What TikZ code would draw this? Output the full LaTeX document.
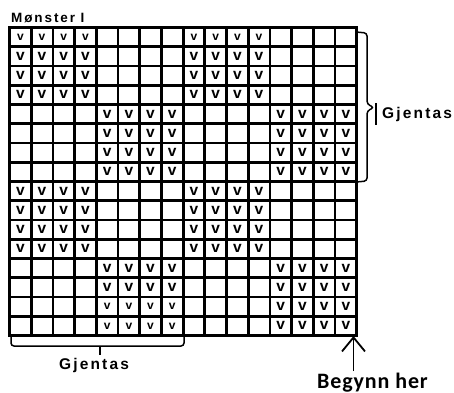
\documentclass[tikz,border=0pt]{standalone}
\usepackage{fontspec}
\setmainfont{Liberation Sans}
\newfontfamily\boldsans{Liberation Sans Bold}
\newfontfamily\boldspaced{Liberation Sans Bold}[LetterSpace=14]
\newfontfamily\calibrifont{Carlito Bold}[LetterSpace=4]
\usetikzlibrary{positioning, arrows.meta, calc}

\begin{document}
\begin{tikzpicture}[
    x=1pt, y=-1pt,
    gridline/.style={line width=2.8pt, line cap=rect},
    vmark/.style={font=\boldsans\fontsize{15.5}{15.5}\selectfont, inner sep=0pt},
    vsmall/.style={font=\boldsans\fontsize{12}{12}\selectfont, inner sep=0pt},
    bracket/.style={line width=1.5pt, rounded corners=3pt},
    gjtext/.style={font=\boldspaced\fontsize{15.5}{15.5}\selectfont, inner sep=0pt},
    titletext/.style={font=\boldspaced\fontsize{13.5}{13.5}\selectfont, inner sep=0pt},
    starttext/.style={font=\calibrifont\fontsize{22}{22}\selectfont, inner sep=0pt},
    startarrow/.style={line width=1.8pt, -{Straight Barb[length=14pt, width=23pt, line width=1.8pt]}}
]
\useasboundingbox (0,0) rectangle (454,392);

% Rutenett 16 x 16
\def\cw{21.7}
\def\rh{19.25}
\foreach \i in {0,...,16} {
    \draw[gridline] (9.5+\i*\cw, 27.5) -- (9.5+\i*\cw, 335.5);
    \draw[gridline] (9.5, 27.5+\i*\rh) -- (356.7, 27.5+\i*\rh);
}

% Maskemerker
\foreach \r in {1,...,16} {
    \foreach \c in {1,...,16} {
        \pgfmathtruncatemacro{\rb}{mod(int((\r-1)/4),2)}
        \pgfmathtruncatemacro{\cb}{mod(int((\c-1)/4),2)}
        \pgfmathtruncatemacro{\sm}{(\r==1) || ((\r>14) && (\c>4) && (\c<9))}
        \ifnum\rb=\cb
            \ifnum\sm=1
                \node[vsmall] (v-\r-\c) at (9.5+\c*\cw-0.5*\cw, 27.5+\r*\rh-0.5*\rh) {v};
            \else
                \node[vmark] (v-\r-\c) at (9.5+\c*\cw-0.5*\cw, 27.5+\r*\rh-0.5*\rh) {v};
            \fi
        \fi
    }
}

% Tekster
\node[titletext, anchor=base west] (title) at (11,22) {Mønster I};
\node[gjtext, anchor=base west] (rep-right) at (382,118) {Gjentas};
\node[gjtext, anchor=base] (rep-bottom) at (94,369) {Gjentas};
\node[starttext, anchor=base west] (start) at (317,388) {Begynn her};

% Klammer
\draw[bracket] (356,32) -- (367,33) -- (367,104) -- (374,107.5) -- (367,111) -- (367,181) -- (356,182);
\draw[line width=1.8pt] (376,103) -- (376,125);
\draw[bracket] (11,336) -- (11,346) -- (184,346) -- (184,336);
\draw[line width=1.5pt] (100,346) -- (100,355);

% Startpil
\coordinate (corner) at (353.5,336);
\coordinate (foot) at (353.5,371);
\draw[startarrow] (foot) -- (corner);

\end{tikzpicture}
\end{document}
